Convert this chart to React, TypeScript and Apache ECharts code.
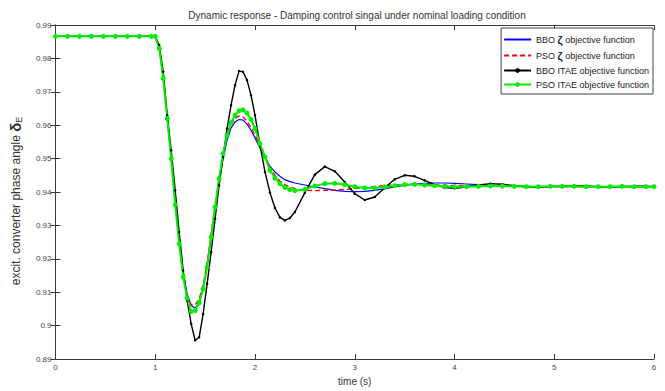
import React, { useEffect, useRef } from "react";
import * as echarts from "echarts";

const TITLE = "Dynamic response - Damping control singal under nominal loading condition";
const X_NAME = "time (s)";
const SERIES_NAMES = [
  "BBO ζ objective function",
  "PSO ζ objective function",
  "BBO ITAE objective function",
  "PSO ITAE objective function",
];

const TIME = [
  0, 0.12, 0.24, 0.36, 0.48, 0.6, 0.72, 0.84, 0.96,
  1.0, 1.04, 1.08, 1.12, 1.16, 1.2, 1.24, 1.28, 1.32, 1.36, 1.4, 1.44, 1.48, 1.52, 1.56, 1.6, 1.64, 1.68, 1.72, 1.76, 1.8, 1.84, 1.88, 1.92, 1.96, 2.0,
  2.05, 2.1, 2.15, 2.2, 2.25, 2.3, 2.35, 2.4,
  2.5, 2.6, 2.7, 2.8, 2.9, 3.0, 3.1, 3.2, 3.3, 3.4, 3.5, 3.6, 3.7, 3.8, 3.9, 4.0,
  4.12, 4.24, 4.36, 4.48, 4.6, 4.72, 4.84, 4.96, 5.08, 5.2, 5.32, 5.44, 5.56, 5.68, 5.8, 5.92, 6.0,
];

const BBO_ZETA = [
  0.9866, 0.9866, 0.9866, 0.9866, 0.9866, 0.9866, 0.9866, 0.9866, 0.9866,
  0.9866, 0.9835, 0.9745, 0.9625, 0.9505, 0.937, 0.9255, 0.916, 0.9095, 0.906, 0.9052, 0.907, 0.911, 0.918, 0.9265, 0.935, 0.943, 0.95, 0.9555, 0.9592, 0.961, 0.9617, 0.9615, 0.9603, 0.9585, 0.9562,
  0.9532, 0.9503, 0.9477, 0.946, 0.9447, 0.9437, 0.9431, 0.9427,
  0.9421, 0.9415, 0.941, 0.9405, 0.9402, 0.9401, 0.9402, 0.9405, 0.941, 0.9415, 0.942, 0.9424, 0.9426, 0.9427, 0.9427, 0.9426,
  0.9424, 0.9422, 0.942, 0.9418, 0.9417, 0.9417, 0.9416, 0.9416, 0.9416, 0.9416, 0.9416, 0.9416, 0.9416, 0.9416, 0.9416, 0.9416, 0.9416,
];

const PSO_ZETA = [
  0.9866, 0.9866, 0.9866, 0.9866, 0.9866, 0.9866, 0.9866, 0.9866, 0.9866,
  0.9866, 0.9833, 0.9742, 0.9622, 0.9502, 0.9366, 0.925, 0.9152, 0.909, 0.9062, 0.9062, 0.908, 0.912, 0.9188, 0.9272, 0.936, 0.944, 0.951, 0.9565, 0.9602, 0.9621, 0.9628, 0.9625, 0.9612, 0.9593, 0.957,
  0.9538, 0.9505, 0.9475, 0.945, 0.9433, 0.9422, 0.9415, 0.941,
  0.9405, 0.9404, 0.9405, 0.9406, 0.9408, 0.941, 0.9413, 0.9416, 0.9419, 0.9421, 0.9422, 0.9423, 0.9422, 0.9421, 0.942, 0.9419,
  0.9418, 0.9418, 0.9417, 0.9417, 0.9417, 0.9416, 0.9416, 0.9416, 0.9416, 0.9416, 0.9416, 0.9416, 0.9416, 0.9416, 0.9416, 0.9416, 0.9416,
];

const BBO_ITAE = [
  0.9866, 0.9866, 0.9866, 0.9866, 0.9866, 0.9866, 0.9866, 0.9866, 0.9866,
  0.9866, 0.984, 0.976, 0.963, 0.9525, 0.9405, 0.928, 0.9165, 0.9075, 0.9005, 0.8956, 0.8965, 0.9035, 0.9125, 0.922, 0.932, 0.942, 0.9505, 0.959, 0.966, 0.972, 0.9762, 0.976, 0.9735, 0.969, 0.963,
  0.954, 0.946, 0.9398, 0.9352, 0.9324, 0.9315, 0.9322, 0.934,
  0.9398, 0.9452, 0.9476, 0.9462, 0.943, 0.9395, 0.9376, 0.9385, 0.9412, 0.9438, 0.945, 0.9447, 0.9435, 0.9422, 0.9413, 0.9411,
  0.9415, 0.9421, 0.9425, 0.9423, 0.9419, 0.9415, 0.9414, 0.9416, 0.9418, 0.9419, 0.9418, 0.9416, 0.9415, 0.9416, 0.9417, 0.9417, 0.9416,
];

const PSO_ITAE = [
  0.9866, 0.9866, 0.9866, 0.9866, 0.9866, 0.9866, 0.9866, 0.9866, 0.9866,
  0.9866, 0.983, 0.974, 0.962, 0.95, 0.9362, 0.9245, 0.9145, 0.9082, 0.9042, 0.9045, 0.9068, 0.911, 0.9175, 0.9265, 0.9355, 0.944, 0.9515, 0.957, 0.9608, 0.963, 0.9643, 0.9646, 0.9636, 0.9617, 0.959,
  0.9545, 0.9505, 0.9465, 0.9442, 0.9425, 0.9414, 0.9407, 0.9404,
  0.9408, 0.9418, 0.9425, 0.9426, 0.9422, 0.9416, 0.9412, 0.9412, 0.9415, 0.9419, 0.9422, 0.9423, 0.9421, 0.9419, 0.9417, 0.9416,
  0.9416, 0.9417, 0.9418, 0.9418, 0.9417, 0.9416, 0.9416, 0.9417, 0.9417, 0.9417, 0.9416, 0.9416, 0.9416, 0.9417, 0.9416, 0.9416, 0.9416,
];

const FONT = "'Liberation Sans Narrow', 'Liberation Sans', Arial, sans-serif";
const AXIS_COLOR = "#3a3a3a";

function pairs(values: number[]) {
  return TIME.map((t, i) => [t, values[i]]);
}

export default function App() {
  const ref = useRef<HTMLDivElement>(null);
  useEffect(() => {
    if (!ref.current) return;
    const chart = echarts.init(ref.current, null, { renderer: "svg" });
    const tickCommon = {
      axisLine: { show: true, lineStyle: { color: AXIS_COLOR, width: 1 } },
      axisTick: { show: true, inside: true, length: 5, lineStyle: { color: AXIS_COLOR } },
      splitLine: { show: false },
    };
    chart.setOption({
      animation: false,
      backgroundColor: "#ffffff",
      title: {
        text: TITLE,
        left: 352,
        textAlign: "center",
        top: 5,
        textStyle: { fontFamily: FONT, fontSize: 10, fontWeight: "normal", color: "#333" },
      },
      grid: { left: 49, right: 11, top: 25, bottom: 30, containLabel: false },
      legend: {
        orient: "vertical",
        right: 12,
        top: 28,
        padding: [6, 4, 5, 2],
        itemGap: 5,
        itemWidth: 27,
        itemHeight: 6,
        backgroundColor: "#fff",
        borderColor: "#444",
        borderWidth: 1,
        borderRadius: 0,
        data: [
          { name: SERIES_NAMES[0], itemStyle: { opacity: 0 } },
          { name: SERIES_NAMES[1], itemStyle: { opacity: 0 } },
          { name: SERIES_NAMES[2] },
          { name: SERIES_NAMES[3] },
        ],
        formatter: (name: string) => name.replace("ζ", "{z|ζ}"),
        textStyle: {
          fontFamily: FONT,
          fontSize: 9,
          color: "#222",
          rich: { z: { fontSize: 11, fontWeight: "bold", color: "#222", fontFamily: FONT } },
        },
      },
      xAxis: [
        {
          type: "value",
          min: 0,
          max: 6,
          interval: 1,
          position: "bottom",
          name: X_NAME,
          nameLocation: "middle",
          nameGap: 17,
          nameTextStyle: { fontFamily: FONT, fontSize: 10, color: "#333" },
          axisLabel: { fontFamily: FONT, fontSize: 8, color: "#444", margin: 4 },
          ...tickCommon,
        },
        {
          type: "value",
          min: 0,
          max: 6,
          interval: 1,
          position: "top",
          axisLabel: { show: false },
          ...tickCommon,
        },
      ],
      yAxis: [
        {
          type: "value",
          min: 0.89,
          max: 0.99,
          interval: 0.01,
          position: "left",
          name: "excit. converter phase angle {d|δ}{s|E}",
          nameLocation: "middle",
          nameGap: 32,
          nameRotate: 90,
          nameTextStyle: {
            fontFamily: FONT,
            fontSize: 12,
            color: "#333",
            padding: [0, 18, 0, 0],
            rich: {
              d: { fontSize: 15, fontWeight: "bold", color: "#333", fontFamily: FONT },
              s: { fontSize: 9, color: "#333", fontFamily: FONT, verticalAlign: "bottom", padding: [7, 0, 0, 0] },
            },
          },
          axisLabel: { fontFamily: FONT, fontSize: 8, color: "#444", margin: 4 },
          ...tickCommon,
        },
        {
          type: "value",
          min: 0.89,
          max: 0.99,
          interval: 0.01,
          position: "right",
          axisLabel: { show: false },
          ...tickCommon,
        },
      ],
      series: [
        {
          name: SERIES_NAMES[0],
          type: "line",
          data: pairs(BBO_ZETA),
          showSymbol: false,
          symbol: "none",
          lineStyle: { color: "#0000ff", width: 1.2 },
          itemStyle: { color: "#0000ff" },
        },
        {
          name: SERIES_NAMES[1],
          type: "line",
          data: pairs(PSO_ZETA),
          showSymbol: false,
          symbol: "none",
          lineStyle: { color: "#ff0000", width: 1.4, type: [5, 3] },
          itemStyle: { color: "#ff0000" },
        },
        {
          name: SERIES_NAMES[2],
          type: "line",
          data: pairs(BBO_ITAE),
          symbol: "circle",
          symbolSize: 2.5,
          showSymbol: true,
          lineStyle: { color: "#000000", width: 1.4 },
          itemStyle: { color: "#000000" },
        },
        {
          name: SERIES_NAMES[3],
          type: "line",
          data: pairs(PSO_ITAE),
          symbol: "circle",
          symbolSize: 5,
          showSymbol: true,
          lineStyle: { color: "#00ee00", width: 2 },
          itemStyle: { color: "#00ee00" },
        },
      ],
    });
    return () => chart.dispose();
  }, []);
  return (
    <div
      ref={ref}
      style={{ position: "fixed", left: 0, top: 0, width: 665, height: 391, background: "#fff" }}
    />
  );
}
